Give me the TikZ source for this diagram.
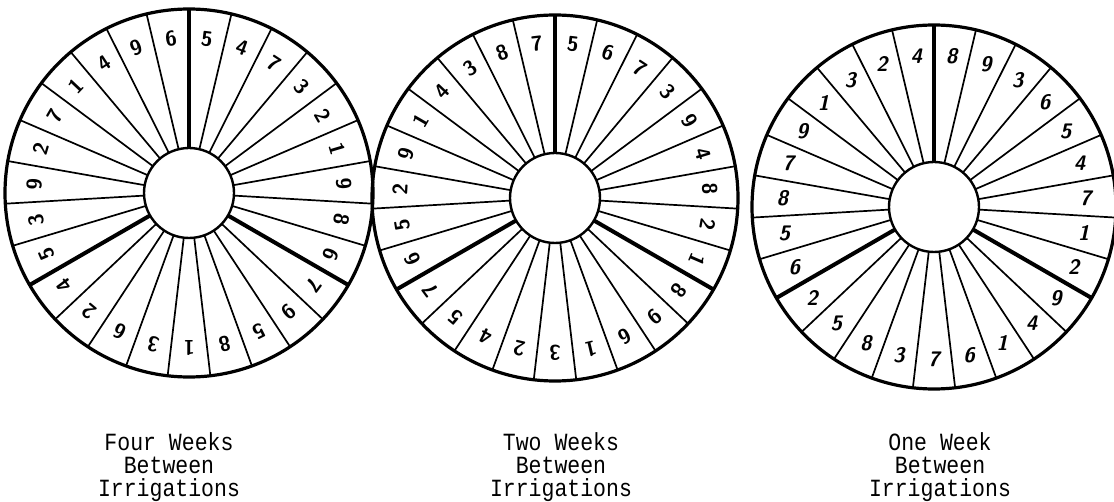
\documentclass[tikz,border=0pt]{standalone}
\usepackage{fontspec}
\setmonofont{Liberation Mono}
\usetikzlibrary{positioning}

\begin{document}
\begin{tikzpicture}[x=1pt,y=1pt,
    rim/.style={line width=3.2pt},
    spoke/.style={line width=1.7pt},
    divider/.style={line width=4pt},
    hub/.style={line width=2.4pt, fill=white},
    digit/.style={font=\sffamily\bfseries\fontsize{21}{21}\selectfont, inner sep=0pt},
    caption/.style={font=\ttfamily\fontsize{21.5}{20}\selectfont, align=center, anchor=north, inner sep=0pt, yscale=1.15, transform shape}]
                \useasboundingbox (0,0) rectangle (1114,501);

                % Four weeks wheel - left
                \begin{scope}[shift={(189,308)}]
                \foreach \d [count=\k from 0] in {5,4,7,3,2,1,9,8,6,7,9,5,8,1,3,6,2,4,5,3,9,2,7,1,4,9,6} {
                    \pgfmathsetmacro\a{90-\k*360/27}
                    \pgfmathsetmacro\m{\a-180/27}
                    \draw[spoke] (\a:45) -- (\a:184);
                    \node[digit, rotate=\m-90] (four-\k) at (\m:155) {\d};
                }
                \foreach \a in {90,-30,210} \draw[divider] (\a:45) -- (\a:184);
                \draw[rim] (0,0) circle (184);
                \draw[hub] (0,0) circle (45);
                \end{scope}

                % Two weeks wheel - middle
                \begin{scope}[shift={(555,303)}]
                \foreach \d [count=\k from 0] in {5,6,7,3,9,4,8,2,1,8,9,6,1,3,2,4,5,7,6,5,2,9,1,4,3,8,7} {
                    \pgfmathsetmacro\a{90-\k*360/27}
                    \pgfmathsetmacro\m{\a-180/27}
                    \draw[spoke] (\a:45) -- (\a:183);
                    \node[digit, rotate=\m-90] (two-\k) at (\m:155) {\d};
                }
                \foreach \a in {90,-30,210} \draw[divider] (\a:45) -- (\a:183);
                \draw[rim] (0,0) circle (183);
                \draw[hub] (0,0) circle (45);
                \end{scope}

                % One week wheel - right
                \begin{scope}[shift={(934,294)}]
                \foreach \d [count=\k from 0] in {8,9,3,6,5,4,7,1,2,9,4,1,6,7,3,8,5,2,6,5,8,7,9,1,3,2,4} {
                    \pgfmathsetmacro\a{90-\k*360/27}
                    \pgfmathsetmacro\m{\a-180/27}
                    \draw[spoke] (\a:45) -- (\a:182);
                    \node[digit, font=\sffamily\bfseries\itshape\fontsize{21}{21}\selectfont] (one-\k) at (\m:152) {\d};
                }
                \foreach \a in {90,-30,210} \draw[divider] (\a:45) -- (\a:182);
                \draw[rim] (0,0) circle (182);
                \draw[hub] (0,0) circle (45);
                \end{scope}

                % Captions
                \node[caption] (fourlabel) at (169,69) {Four Weeks\\Between\\Irrigations};
                \node[caption] (twolabel) at (561,69) {Two Weeks\\Between\\Irrigations};
                \node[caption] (onelabel) at (940,69) {One Week\\Between\\Irrigations};

\end{tikzpicture}
\end{document}
